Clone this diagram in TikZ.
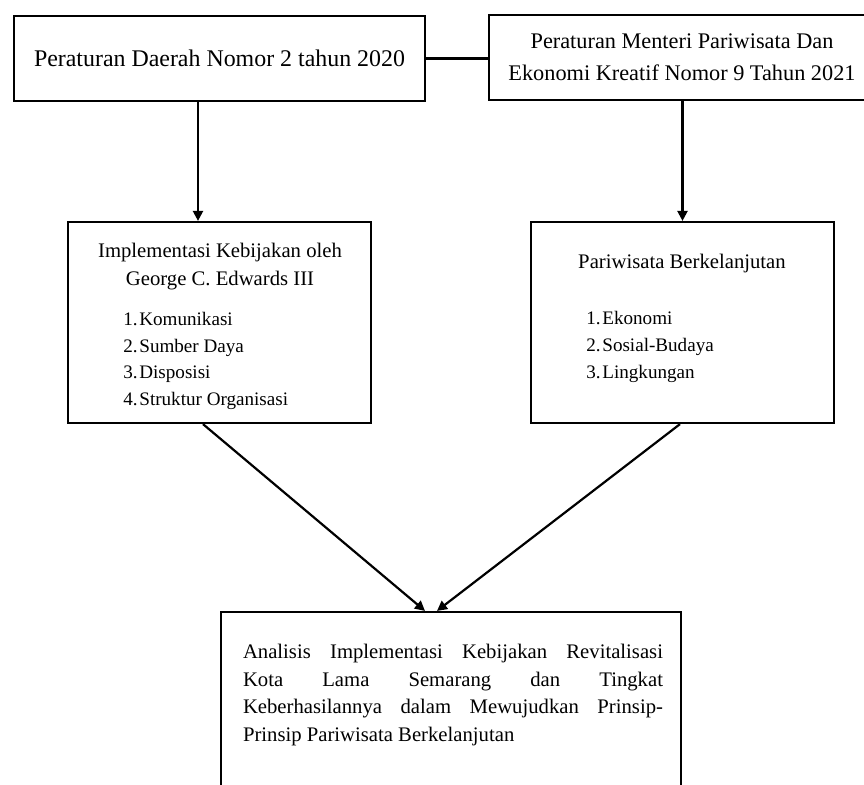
\documentclass[tikz,border=0pt]{standalone}
\usepackage{fontspec}
\setmainfont{Liberation Serif}
\usetikzlibrary{arrows.meta}

\begin{document}
\begin{tikzpicture}[x=0.5pt, y=-0.5pt,
  box/.style = {draw, line width=1.1pt, shape=rectangle, inner sep=0pt},
  txt/.style = {inner sep=0pt},
  arr/.style = {line width=1.1pt, -{Triangle[length=5pt, width=5pt]}}]
\useasboundingbox (0,0) rectangle (864,784);

% top row
\node[box, minimum width=205.5pt, minimum height=42.5pt, font=\fontsize{11.95}{14}\selectfont] (1) at (219.5,58.5) {Peraturan Daerah Nomor 2 tahun 2020};
\node[box, minimum width=193pt, minimum height=42.5pt, align=center, font=\fontsize{11.15}{16}\selectfont] (2) at (682,57.5) {Peraturan Menteri Pariwisata Dan\\Ekonomi Kreatif Nomor 9 Tahun 2021};

% middle row
\node[box, minimum width=151.5pt, minimum height=100.5pt] (3) at (219.5,322.5) {};
\node[txt, align=center, font=\fontsize{10.35}{14}\selectfont] (31) at (220,267) {Implementasi Kebijakan oleh\\George C. Edwards III};
\node[txt, anchor=west, align=left, font=\fontsize{9.55}{13.3}\selectfont] (32) at (123,361) {\makebox[8pt][l]{1.}Komunikasi\\\makebox[8pt][l]{2.}Sumber Daya\\\makebox[8pt][l]{3.}Disposisi\\\makebox[8pt][l]{4.}Struktur Organisasi};

\node[box, minimum width=151.5pt, minimum height=100.5pt] (4) at (682.5,322.5) {};
\node[txt, font=\fontsize{10.35}{14}\selectfont] (41) at (682,264) {Pariwisata Berkelanjutan};
\node[txt, anchor=west, align=left, font=\fontsize{9.55}{13.5}\selectfont] (42) at (586,347) {\makebox[8pt][l]{1.}Ekonomi\\\makebox[8pt][l]{2.}Sosial-Budaya\\\makebox[8pt][l]{3.}Lingkungan};

% bottom
\node[box, minimum width=230pt, minimum height=94pt] (5) at (451,706) {};
\node[txt, text width=210pt, align=justify, font=\fontsize{10.35}{13.7}\selectfont] (51) at (453,695) {Analisis Implementasi Kebijakan Revitalisasi\linebreak Kota Lama Semarang dan Tingkat\linebreak Keberhasilannya dalam Mewujudkan Prinsip-\linebreak Prinsip Pariwisata Berkelanjutan};

\draw[line width=1.1pt] (1.east) -- (2.west |- 1.east);
\draw[arr] ([xshift=-10.75pt]1.south) -- ([xshift=-10.75pt]3.north);
\draw[arr] (4.north |- 2.south) -- (4.north);
\draw[arr] ([xshift=-8.25pt]3.south) -- ([xshift=-13pt]5.north);
\draw[arr] ([xshift=-1.25pt]4.south) -- ([xshift=-7pt]5.north);
\end{tikzpicture}
\end{document}
